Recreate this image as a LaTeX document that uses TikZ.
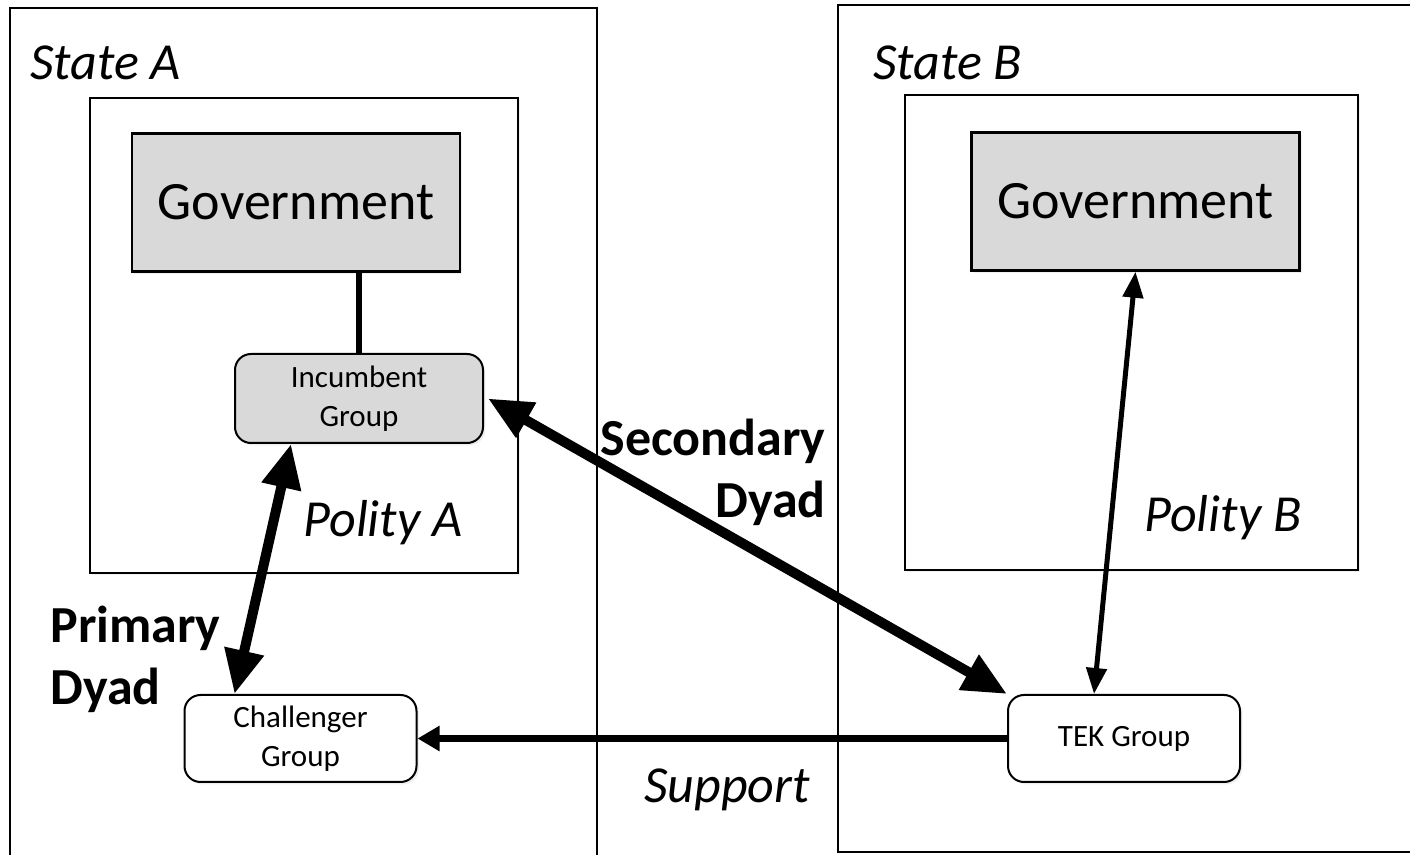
\documentclass[tikz,border=0pt]{standalone}
\usepackage{fontspec}
\setmainfont{Carlito}
\usepackage{tikz}
\usetikzlibrary{arrows.meta,shadows}

\definecolor{govgray}{RGB}{217,217,217}
\newcommand{\bigtext}{\fontsize{26}{31}\selectfont}
\newcommand{\govtext}{\fontsize{27}{32}\selectfont}
\newcommand{\smalltext}{\fontsize{15.5}{19.5}\selectfont}

\begin{document}
\begin{tikzpicture}[x=0.5pt,y=-0.5pt,
    softshadow/.style={drop shadow={shadow xshift=1.2pt,shadow yshift=-1.2pt,opacity=0.12}},
    stateframe/.style={draw,line width=0.9pt,fill=white},
    polityframe/.style={draw,line width=0.9pt,fill=white,softshadow},
    gov/.style={draw,line width=1.2pt,fill=govgray,softshadow,minimum width=164pt,minimum height=69pt,font=\govtext},
    grpnode/.style={draw,line width=1pt,rounded corners=8pt,softshadow,minimum width=116pt,minimum height=43.5pt,align=center,font=\smalltext},
    italiclbl/.style={inner sep=0pt,font=\bigtext\itshape},
    boldlbl/.style={inner sep=0pt,font=\bigtext\bfseries},
    dyad/.style={line width=5pt,{Triangle[length=22pt,width=19pt]}-{Triangle[length=22pt,width=19pt]}},
    tie/.style={line width=3pt},
    link/.style={line width=2.5pt,{Triangle[length=13pt,width=10pt]}-{Triangle[length=13pt,width=10pt]}},
    support/.style={line width=3.5pt,-{Triangle[length=11pt,width=12pt]}}]
    \useasboundingbox (0,0) rectangle (1410,855);
    \clip (0,0) rectangle (1410,855);

    % states and polities
    \draw[stateframe] (10,8) rectangle (597,880);
    \draw[stateframe] (838,5) rectangle (1430,852);
    \draw[polityframe] (90,98) rectangle (518,573);
    \draw[polityframe] (905,95) rectangle (1358,570);

    % actors
    \node[gov] (govA) at (296,202.5) {Government};
    \node[grpnode,fill=govgray,minimum width=124pt,minimum height=44.5pt] (incumbent) at (359,398.5) {Incumbent\\Group};
    \node[grpnode,fill=white] (challenger) at (300.5,738.5) {Challenger\\Group};
    \node[gov] (govB) at (1135.5,201.5) {Government};
    \node[grpnode,fill=white] (tek) at (1124,738.5) {TEK Group};

    % relations
    \draw[tie] (incumbent.north) -- (incumbent.north |- govA.south);
    \draw[dyad] ([xshift=-34pt]incumbent.south) -- ([xshift=-33pt]challenger.north);
    \draw[dyad] ([xshift=2pt]incumbent.east) -- (tek.north west);
    \draw[link] (govB.south) -- ([xshift=-15pt]tek.north);
    \draw[support] (tek.west) -- (challenger.east);

    % labels
    \node[italiclbl,anchor=base west] (stateAlbl) at (30,80) {State A};
    \node[italiclbl,anchor=base west] (stateBlbl) at (873,80) {State B};
    \node[italiclbl,anchor=base] (polityAlbl) at (383,537) {Polity A};
    \node[italiclbl,anchor=base] (polityBlbl) at (1223,532) {Polity B};
    \node[boldlbl,align=left,anchor=west] (primarylbl) at (50,659) {Primary\\Dyad};
    \node[boldlbl,align=right,anchor=east] (secondarylbl) at (826,472) {Secondary\\Dyad};
    \node[italiclbl,anchor=base] (supportlbl) at (727,803) {Support};
\end{tikzpicture}
\end{document}
